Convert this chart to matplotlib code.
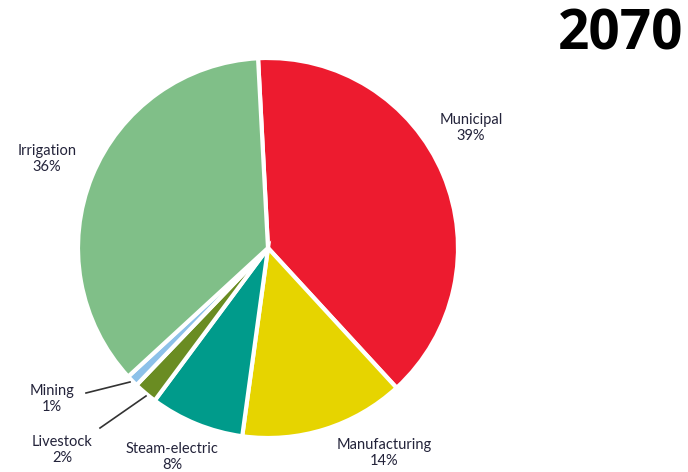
import matplotlib.pyplot as plt

# water withdrawal shares by sector
sectors = ['Municipal', 'Manufacturing', 'Steam-electric', 'Livestock', 'Mining', 'Irrigation']
shares = [39, 14, 8, 2, 1, 36]
colors = ['#ED1B2F', '#E6D400', '#009B8B', '#6A8C22', '#8DC1E9', '#80BF88']

# label positions in pixels (x, y from top)
label_pos = {
    'Municipal': (471, 128),
    'Manufacturing': (384, 453),
    'Steam-electric': (172, 457),
    'Livestock': (62, 450),
    'Mining': (52, 399),
    'Irrigation': (47, 159),
}

W, H = 688, 472
fig = plt.figure(figsize=(W / 100, H / 100), dpi=100)
ax = fig.add_axes([0, 0, 1, 1])

ax.pie(shares, colors=colors, startangle=93, counterclock=False,
       center=(268, H - 248), radius=190,
       wedgeprops=dict(edgecolor='white', linewidth=3))

# pie() resets the limits, so set them afterwards
ax.set_xlim(0, W)
ax.set_ylim(0, H)
ax.set_aspect('equal')
ax.axis('off')

txt_color = '#23233A'
for name, val in zip(sectors, shares):
    x, y = label_pos[name]
    ax.text(x, H - y, f'{name}\n{val}%', ha='center', va='center',
            fontsize=10.5, family='Lato', color=txt_color, linespacing=1.15)

# leader lines for the small slices
ax.plot([86, 130], [H - 393, H - 382], color='#333333', lw=1.2)
ax.plot([100, 146], [H - 428, H - 396], color='#333333', lw=1.2)

ax.text(683, H - 35, '2070', ha='right', va='center', fontsize=39.5,
        fontweight='bold', family='Open Sans', color='black')

fig.savefig('out.png', dpi=100)
